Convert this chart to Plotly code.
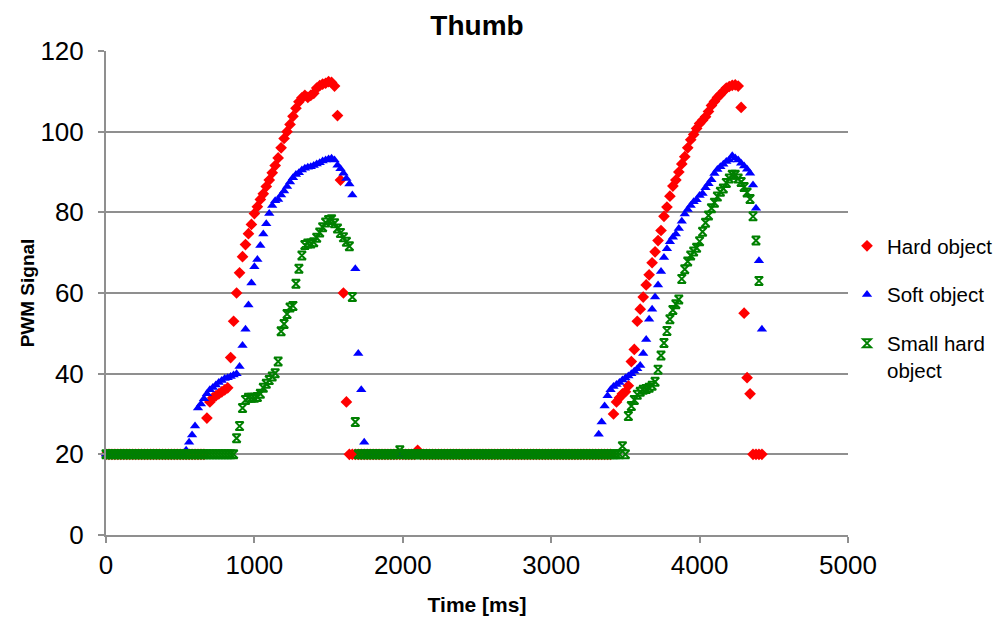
import plotly.graph_objects as go

# Sample times [ms] (regular 20 ms sampling)
time_ms = list(range(0, 4441, 20))

# Hard object (red diamonds)
hard_object = [
    20, 20, 20, 20, 20, 20, 20, 20, 20, 20,
    20, 20, 20, 20, 20, 20, 20, 20, 20, 20,
    20, 20, 20, 20, 20, 20, 20, 20, 20, 20,
    20, 20, 20, 20, 29, 33, 34, 34.5, 35, 35.5,
    36, 36.5, 44, 53, 60, 65, 69, 72, 74.7, 77,
    79.7, 81.4, 83.2, 84.6, 86.4, 88, 89.8, 91.6, 93.5, 96,
    98.3, 100, 101.8, 103.8, 105.8, 107.4, 108.4, 109, 108.5, 109,
    109.5, 110.8, 111.4, 111.8, 112, 112.4, 112.2, 111.3, 104, 88,
    60, 33, 20, 20, 20, 20, 20, 20, 20, 20,
    20, 20, 20, 20, 20, 20, 20, 20, 20, 20,
    20, 20, 20, 20, 20, 21, 20, 20, 20, 20,
    20, 20, 20, 20, 20, 20, 20, 20, 20, 20,
    20, 20, 20, 20, 20, 20, 20, 20, 20, 20,
    20, 20, 20, 20, 20, 20, 20, 20, 20, 20,
    20, 20, 20, 20, 20, 20, 20, 20, 20, 20,
    20, 20, 20, 20, 20, 20, 20, 20, 20, 20,
    20, 20, 20, 20, 20, 20, 20, 20, 20, 20,
    20, 30, 33, 34, 35, 35.5, 37, 43, 46, 53,
    56, 59, 62, 64.5, 67.5, 70.2, 73, 75.5, 79, 81.3,
    84, 86.5, 88, 90, 92, 93.8, 96, 98, 99.3, 100.8,
    102, 102.8, 103.7, 105, 106.5, 107.5, 108.5, 109.2, 110, 110.8,
    111.2, 111.5, 111.6, 111.3, 106, 55, 39, 35, 20, 20,
    20, 20, None,
]

# Soft object (blue triangles)
soft_object = [
    20, 20, 20, 20, 20, 20, 20, 20, 20, 20,
    20, 20, 20, 20, 20, 20, 20, 20, 20, 20,
    20, 20, 20, 20, 20, 20, 20, 21, 23, 24.8,
    27, 31.5, 32.5, 33.8, 35, 36, 36.6, 37.2, 37.8, 38.3,
    38.8, 39, 39.3, 39.7, 40, 41.8, 47, 51, 57, 62.5,
    66.5, 68.3, 71.8, 74.6, 77.2, 79.7, 81.7, 82.9, 83.2, 84.3,
    85.3, 86.4, 87.5, 88.6, 89.4, 89.8, 90.5, 90.9, 91.2, 91.3,
    91.6, 92, 92.3, 92.7, 93, 93.2, 93.4, 93, 91.7, 90.8,
    89.7, 88.4, 87, 84.3, 66, 45, 36, 23, 20, 20,
    20, 20, 20, 20, 20, 20, 20, 20, 20, 20,
    20, 20, 20, 20, 20, 20, 20, 20, 20, 20,
    20, 20, 20, 20, 20, 20, 20, 20, 20, 20,
    20, 20, 20, 20, 20, 20, 20, 20, 20, 20,
    20, 20, 20, 20, 20, 20, 20, 20, 20, 20,
    20, 20, 20, 20, 20, 20, 20, 20, 20, 20,
    20, 20, 20, 20, 20, 20, 20, 20, 20, 20,
    20, 20, 20, 20, 20, 20, 25, 28, 32, 34.5,
    36, 36.8, 37.3, 37.8, 38.4, 38.9, 39.4, 40, 40.6, 41.2,
    42, 45, 48.5, 53.5, 56, 59, 62, 65.3, 68.8, 71,
    72.7, 73.8, 74.6, 76, 77.8, 79.6, 80.7, 81.7, 82.6, 83.1,
    84.2, 84.7, 86.1, 87.1, 88.1, 89.6, 90.6, 91.3, 91.9, 92.6,
    93, 94, 93.5, 93, 92.2, 91.5, 90.7, 89.7, 86.8, 81,
    68, 51, None,
]

# Small hard object (green)
small_hard_object = [
    20, 20, 20, 20, 20, 20, 20, 20, 20, 20,
    20, 20, 20, 20, 20, 20, 20, 20, 20, 20,
    20, 20, 20, 20, 20, 20, 20, 20, 20, 20,
    20, 20, 20, 20, 20, 20, 20, 20, 20, 20,
    20, 20, 20, 20, 24, 27, 31.5, 33.5, 34, 34,
    34, 34.2, 35, 36.5, 37.5, 38.4, 39.3, 40.1, 43, 50.5,
    52.3, 54.8, 56.4, 56.8, 62.3, 66, 69.3, 71.9, 72.3, 72.3,
    72.6, 73.7, 75, 76.3, 77.5, 78.1, 78.3, 77.3, 76, 74.9,
    73.8, 72.7, 71.6, 59, 28, 20, 20, 20, 20, 20,
    20, 20, 20, 20, 20, 20, 20, 20, 20, 21,
    20, 20, 20, 20, 20, 20, 20, 20, 20, 20,
    20, 20, 20, 20, 20, 20, 20, 20, 20, 20,
    20, 20, 20, 20, 20, 20, 20, 20, 20, 20,
    20, 20, 20, 20, 20, 20, 20, 20, 20, 20,
    20, 20, 20, 20, 20, 20, 20, 20, 20, 20,
    20, 20, 20, 20, 20, 20, 20, 20, 20, 20,
    20, 20, 20, 20, 20, 20, 20, 20, 20, 20,
    20, 20, 20, 20, 22, 20, 29.5, 32, 33.5, 34.8,
    35.5, 36, 36.2, 36.5, 37, 38, 41, 44.5, 47.6, 50.6,
    53.5, 55.8, 57.2, 58.4, 63.5, 65.9, 67.8, 69.3, 70.3, 71.2,
    72.8, 75.2, 77.4, 79.2, 81, 82.4, 83.9, 85.1, 85.9, 87.3,
    88.4, 89.3, 89.3, 88.4, 87.5, 86.3, 84.9, 83.3, 79, 73,
    63, None, None,
]

series_names = ["Hard object", "Soft object", "Small hard<br>object"]
x_ticks = [0, 1000, 2000, 3000, 4000, 5000]
y_ticks = [0, 20, 40, 60, 80, 100, 120]

FONT = "Liberation Sans, Arial, sans-serif"
GRID = "#8f8f8f"
OFF = 8  # page body margin offset

fig = go.Figure()
fig.add_trace(go.Scatter(
    x=time_ms, y=hard_object, mode="markers", name=series_names[0],
    legendgroup="a", cliponaxis=False,
    marker=dict(symbol="diamond", size=9, color="#FF0000", line=dict(width=0)),
))
fig.add_trace(go.Scatter(
    x=time_ms, y=soft_object, mode="markers", name=series_names[1],
    legendgroup="b", cliponaxis=False,
    marker=dict(symbol="triangle-up", size=9, color="#0000FF", line=dict(width=0)),
))
fig.add_trace(go.Scatter(
    x=time_ms, y=small_hard_object, mode="markers", name=series_names[2],
    legendgroup="c", cliponaxis=False,
    marker=dict(symbol="hourglass-open", size=8, color="#008000",
                line=dict(width=2, color="#008000")),
))

fig.update_layout(
    width=1001, height=617,
    margin=dict(l=106 - OFF, r=1001 - (848 - OFF), t=51 - OFF,
                b=617 - (535 - OFF), autoexpand=False),
    paper_bgcolor="white", plot_bgcolor="white",
    font=dict(family=FONT, color="black"),
    title=dict(text="<b>Thumb</b>", x=(477 - OFF) / 1001, xanchor="center",
               y=1 - (25 - OFF) / 617, yanchor="middle", yref="container",
               font=dict(size=28, family=FONT, color="black")),
    showlegend=True,
    legend=dict(xref="container", x=(847 - OFF) / 1001, xanchor="left",
                yref="container", y=1 - (226 - OFF) / 617, yanchor="top",
                font=dict(size=20.5, family=FONT, color="black"),
                tracegroupgap=19, valign="top",
                bgcolor="rgba(0,0,0,0)", itemwidth=30),
    xaxis=dict(range=[0, 5000], tickvals=x_ticks, showgrid=False,
               showline=True, linecolor=GRID, linewidth=2,
               ticks="outside", ticklen=6, tickcolor=GRID, tickwidth=2,
               zeroline=False, tickfont=dict(size=26, family=FONT),
               automargin=False,
               title=dict(text="<b>Time [ms]</b>", standoff=18,
                          font=dict(size=21, family=FONT))),
    yaxis=dict(range=[0, 120], tickvals=y_ticks, showgrid=True,
               gridcolor=GRID, gridwidth=2,
               showline=True, linecolor=GRID, linewidth=2,
               ticks="outside", ticklen=6, tickcolor=GRID, tickwidth=2,
               ticklabelstandoff=9,
               zeroline=False, tickfont=dict(size=26, family=FONT),
               automargin=False,
               title=dict(text="<b>PWM Signal</b>", standoff=1,
                          font=dict(size=19, family=FONT))),
)

fig.write_html("out.html")
